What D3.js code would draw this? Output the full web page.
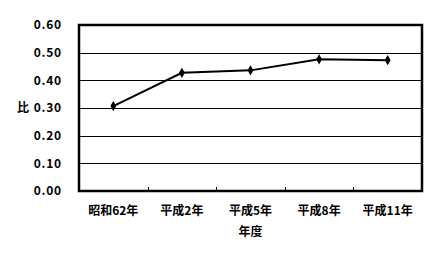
<!DOCTYPE html>
<html>
<head>
<meta charset="utf-8">
<script src="https://cdn.jsdelivr.net/npm/d3@7"></script>
<style>
  body { margin: 0; background: #fff; }
  svg text { font-family: "Noto Sans CJK JP", "DejaVu Sans", sans-serif; font-weight: bold; fill: #000; }
</style>
</head>
<body>
<svg width="438" height="255"></svg>
<script>
// chart data
const years = ["昭和62年", "平成2年", "平成5年", "平成8年", "平成11年"];
const ratios = [0.307, 0.427, 0.436, 0.476, 0.473];
const yTicks = [0, 0.1, 0.2, 0.3, 0.4, 0.5, 0.6];

const svg = d3.select("svg");
const margin = { left: 79, right: 16, top: 25, bottom: 64 };
const width = 438, height = 255;

const x = d3.scaleBand()
    .domain(years)
    .range([margin.left, width - margin.right]);

const y = d3.scaleLinear()
    .domain([0, 0.6])
    .range([height - margin.bottom, margin.top]);

// horizontal gridlines
svg.append("g")
    .selectAll("line")
    .data(yTicks)
    .enter()
    .append("line")
    .attr("x1", margin.left)
    .attr("x2", width - margin.right)
    .attr("y1", d => Math.round(y(d)) + 0.5)
    .attr("y2", d => Math.round(y(d)) + 0.5)
    .attr("stroke", "#000")
    .attr("stroke-width", 1);

// plot area frame
svg.append("rect")
    .attr("x", margin.left)
    .attr("y", margin.top)
    .attr("width", width - margin.left - margin.right)
    .attr("height", height - margin.top - margin.bottom)
    .attr("fill", "none")
    .attr("stroke", "#000")
    .attr("stroke-width", 2.5);

// y axis labels
svg.append("g")
    .selectAll("text")
    .data(yTicks)
    .enter()
    .append("text")
    .attr("x", 62)
    .attr("y", d => y(d))
    .attr("dy", "0.36em")
    .attr("text-anchor", "end")
    .attr("font-size", "12px")
    .attr("letter-spacing", "0.8px")
    .text(d => d.toFixed(2));

svg.append("text")
    .attr("x", 23)
    .attr("y", y(0.3))
    .attr("dy", "0.36em")
    .attr("text-anchor", "middle")
    .attr("font-size", "12px")
    .text("比");

// x axis: category tick marks
const bottom = height - margin.bottom;
svg.append("g")
    .selectAll("line")
    .data(years.slice(1))
    .enter()
    .append("line")
    .attr("x1", d => Math.round(x(d)) + 0.5)
    .attr("x2", d => Math.round(x(d)) + 0.5)
    .attr("y1", bottom - 4)
    .attr("y2", bottom)
    .attr("stroke", "#000")
    .attr("stroke-width", 1);

svg.append("g")
    .selectAll("text")
    .data(years)
    .enter()
    .append("text")
    .attr("x", d => x(d) + x.bandwidth() / 2)
    .attr("y", 215)
    .attr("text-anchor", "middle")
    .attr("font-size", "12px")
    .text(d => d);

svg.append("text")
    .attr("x", (margin.left + width - margin.right) / 2)
    .attr("y", 236)
    .attr("text-anchor", "middle")
    .attr("font-size", "12px")
    .text("年度");

// series line
const points = years.map((d, i) => ({ year: d, value: ratios[i] }));
const line = d3.line()
    .x(d => x(d.year) + x.bandwidth() / 2)
    .y(d => y(d.value));

svg.append("path")
    .datum(points)
    .attr("d", line)
    .attr("fill", "none")
    .attr("stroke", "#000")
    .attr("stroke-width", 2);

// diamond markers
svg.append("g")
    .selectAll("path")
    .data(points)
    .enter()
    .append("path")
    .attr("d", d3.symbol().type(d3.symbolDiamond).size(30))
    .attr("transform", d => `translate(${x(d.year) + x.bandwidth() / 2},${y(d.value)})`)
    .attr("fill", "#000");
</script>
</body>
</html>
